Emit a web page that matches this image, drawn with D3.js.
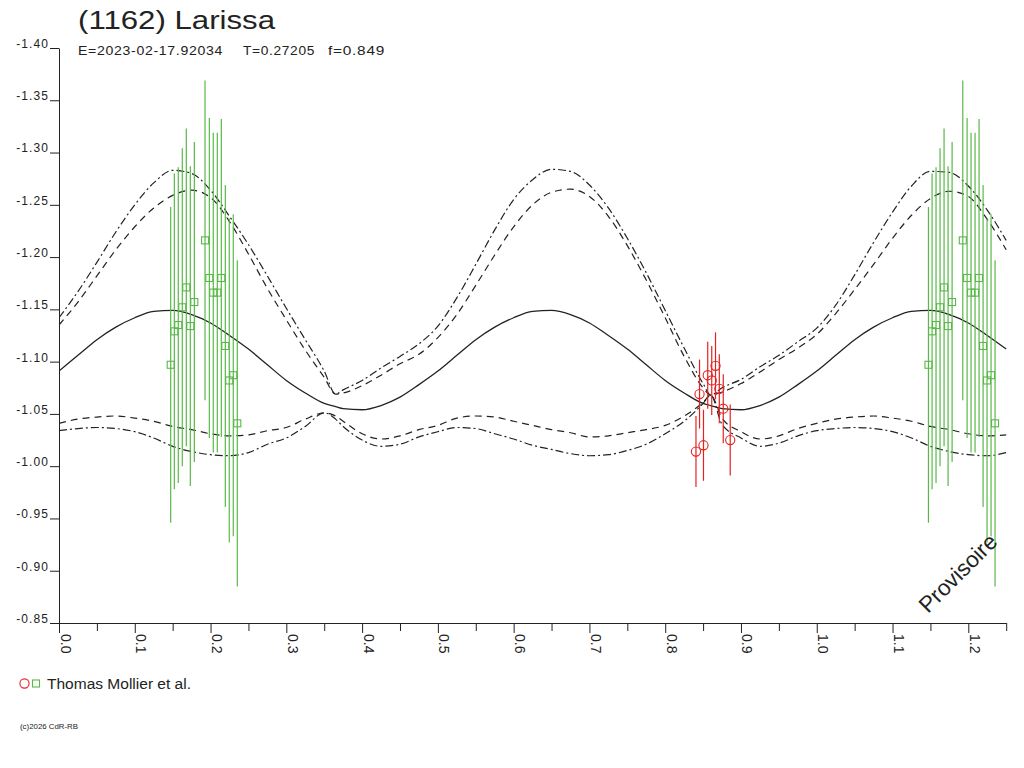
<!DOCTYPE html>
<html><head><meta charset="utf-8">
<script src="https://cdn.jsdelivr.net/npm/d3@7"></script>
<style>
body{margin:0;background:#fff;}
svg{display:block;}
text{font-family:"Liberation Sans",Arial,sans-serif;fill:#222;}
</style>
</head><body>
<svg id="chart" width="1024" height="768"></svg>
<script>
// ---------- data ----------
const titleText = "(1162) Larissa";
const subtitleParts = ["E=2023-02-17.92034", "T=0.27205", "f=0.849"];
const legendLabel = "Thomas Mollier et al.";
const watermarkText = "Provisoire";
const copyrightText = "(c)2026 CdR-RB";

const yTicks = [-1.40,-1.35,-1.30,-1.25,-1.20,-1.15,-1.10,-1.05,-1.00,-0.95,-0.90,-0.85];
const xTicks = [0.0,0.1,0.2,0.3,0.4,0.5,0.6,0.7,0.8,0.9,1.0,1.1,1.2];
const xMinorTicks = [0.05,0.15,0.25,0.35,0.45,0.55,0.65,0.75,0.85,0.95,1.05,1.15,1.25];

const curvePhase = [0,0.025,0.05,0.075,0.1,0.125,0.15,0.175,0.2,0.225,0.25,0.275,0.3,0.325,0.35,0.365,0.375,0.4,0.425,0.45,0.475,0.5,0.525,0.55,0.575,0.6,0.625,0.65,0.675,0.7,0.725,0.75,0.775,0.8,0.825,0.85,0.86,0.875,0.9,0.925,0.95,0.975,1.0,1.025,1.05,1.075,1.1,1.125,1.15,1.175,1.2,1.225,1.25];

const curveSolid = [-1.091,-1.106,-1.121,-1.133,-1.142,-1.148,-1.149,-1.145,-1.137,-1.125,-1.112,-1.097,-1.082,-1.070,-1.060,-1.057,-1.055,-1.054,-1.058,-1.066,-1.078,-1.091,-1.106,-1.121,-1.133,-1.142,-1.148,-1.149,-1.145,-1.137,-1.125,-1.112,-1.097,-1.082,-1.070,-1.060,-1.058,-1.055,-1.054,-1.058,-1.066,-1.078,-1.091,-1.106,-1.121,-1.133,-1.142,-1.148,-1.149,-1.145,-1.137,-1.125,-1.112];

const curveUpperDashDot = [-1.142,-1.167,-1.195,-1.224,-1.250,-1.271,-1.283,-1.280,-1.264,-1.239,-1.212,-1.182,-1.151,-1.121,-1.091,-1.069,-1.073,-1.082,-1.094,-1.105,-1.117,-1.134,-1.161,-1.193,-1.226,-1.255,-1.274,-1.284,-1.282,-1.269,-1.247,-1.218,-1.185,-1.149,-1.113,-1.079,-1.068,-1.075,-1.083,-1.095,-1.106,-1.119,-1.132,-1.154,-1.183,-1.214,-1.243,-1.268,-1.282,-1.281,-1.268,-1.245,-1.216];

const curveUpperDashed = [-1.135,-1.157,-1.182,-1.207,-1.229,-1.247,-1.259,-1.264,-1.257,-1.234,-1.203,-1.170,-1.140,-1.111,-1.085,-1.069,-1.070,-1.077,-1.087,-1.098,-1.107,-1.123,-1.145,-1.173,-1.202,-1.229,-1.250,-1.262,-1.265,-1.258,-1.239,-1.211,-1.178,-1.142,-1.105,-1.075,-1.068,-1.071,-1.079,-1.090,-1.102,-1.113,-1.126,-1.146,-1.169,-1.193,-1.218,-1.240,-1.256,-1.263,-1.258,-1.236,-1.207];

const curveLowerDashed = [-1.041,-1.045,-1.047,-1.048,-1.046,-1.043,-1.038,-1.035,-1.031,-1.029,-1.030,-1.034,-1.037,-1.045,-1.051,-1.048,-1.043,-1.031,-1.026,-1.029,-1.035,-1.039,-1.046,-1.048,-1.047,-1.043,-1.039,-1.035,-1.032,-1.028,-1.029,-1.032,-1.035,-1.039,-1.048,-1.061,-1.068,-1.046,-1.033,-1.026,-1.029,-1.036,-1.041,-1.045,-1.047,-1.048,-1.046,-1.043,-1.038,-1.035,-1.031,-1.029,-1.030];

const curveLowerDashDot = [-1.034,-1.036,-1.037,-1.036,-1.033,-1.027,-1.019,-1.014,-1.011,-1.010,-1.013,-1.021,-1.027,-1.038,-1.051,-1.045,-1.038,-1.025,-1.019,-1.021,-1.028,-1.033,-1.037,-1.036,-1.031,-1.026,-1.020,-1.016,-1.012,-1.010,-1.011,-1.015,-1.021,-1.031,-1.043,-1.060,-1.068,-1.040,-1.027,-1.019,-1.022,-1.029,-1.034,-1.036,-1.037,-1.036,-1.033,-1.027,-1.019,-1.014,-1.011,-1.010,-1.013];

// green squares (one session), phase in [0,1)
const greenPhase = [0.1474,0.1522,0.1574,0.1627,0.1680,0.1733,0.1786,0.1927,0.1984,0.2036,0.2089,0.2142,0.2195,0.2247,0.2300,0.2353];
const greenMag   = [-1.097,-1.129,-1.135,-1.152,-1.171,-1.134,-1.157,-1.216,-1.180,-1.166,-1.166,-1.180,-1.115,-1.082,-1.087,-1.041];
const greenErr   = [0.151,0.151,0.151,0.152,0.152,0.153,0.153,0.153,0.153,0.153,0.153,0.152,0.154,0.155,0.154,0.156];

// red circles (other session)
const redPhase = [0.8406,0.8453,0.8505,0.8561,0.8614,0.8664,0.8714,0.8766,0.8858];
const redMag   = [-1.014,-1.069,-1.020,-1.087,-1.082,-1.096,-1.074,-1.055,-1.025];
const redErr   = [0.034,0.033,0.034,0.032,0.033,0.032,0.033,0.033,0.034];

// ---------- drawing ----------
const svg = d3.select("#chart");
const x = d3.scaleLinear().domain([0, 1.25]).range([59, 1006.2]);
const y = d3.scaleLinear().domain([-1.40, -0.85]).range([48, 623]);
const ink = "#222";
const green = "#58b947";
const red = "#e52222";

// title
svg.append("text").attr("x", 78).attr("y", 29).attr("font-size", 26)
  .attr("textLength", 197).attr("lengthAdjust", "spacingAndGlyphs").text(titleText);
const subX = [78, 243, 328], subW = [145, 72, 57];
subtitleParts.forEach((t, i) => {
  svg.append("text").attr("x", subX[i]).attr("y", 55).attr("font-size", 12.5)
    .attr("letter-spacing", "0.6px")
    .attr("textLength", subW[i]).attr("lengthAdjust", "spacingAndGlyphs").text(t);
});

// y axis
const gy = svg.append("g").attr("transform", "translate(59,0)")
  .call(d3.axisLeft(y).tickValues(yTicks).tickSize(9).tickSizeOuter(0).tickFormat(d => d.toFixed(2)));
gy.select(".domain").attr("stroke", ink);
gy.selectAll(".tick line").attr("stroke", ink);
gy.selectAll(".tick text").attr("x", -10).attr("dy", "-0.6")
  .attr("font-size", 12).attr("letter-spacing", "1.1px").attr("fill", ink)
  .attr("font-family", '"Liberation Sans",Arial,sans-serif');

// x axis (minor ticks)
const gxm = svg.append("g").attr("transform", "translate(0,623)")
  .call(d3.axisBottom(x).tickValues(xMinorTicks).tickSize(8).tickSizeOuter(0).tickFormat(""));
gxm.select(".domain").attr("stroke", ink);
gxm.selectAll(".tick line").attr("stroke", ink);
// x axis (major ticks + rotated labels)
const gx = svg.append("g").attr("transform", "translate(0,623)")
  .call(d3.axisBottom(x).tickValues(xTicks).tickSize(10).tickSizeOuter(0).tickFormat(d => d.toFixed(1)));
gx.select(".domain").remove();
gx.selectAll(".tick line").attr("stroke", ink);
gx.selectAll(".tick text")
  .attr("transform", "rotate(90)")
  .attr("x", 11).attr("y", -1).attr("dy", 0)
  .attr("text-anchor", "start")
  .attr("font-size", 14).attr("fill", ink)
  .attr("font-family", '"Liberation Sans",Arial,sans-serif');

// clip for plot
svg.append("clipPath").attr("id", "plotclip").append("rect")
  .attr("x", 59).attr("y", 40).attr("width", 950).attr("height", 584);
const plot = svg.append("g").attr("clip-path", "url(#plotclip)");

// curves
function drawCurve(vals, dash, w) {
  const line = d3.line()
    .x((d, i) => x(curvePhase[i]))
    .y(d => y(d))
    .curve(d3.curveMonotoneX);
  plot.append("path").attr("d", line(vals)).attr("fill", "none")
    .attr("stroke", ink).attr("stroke-width", w)
    .attr("stroke-dasharray", dash);
}
drawCurve(curveSolid, null, 1.3);
drawCurve(curveUpperDashDot, "8,3,2,3", 1.2);
drawCurve(curveUpperDashed, "7,5", 1.2);
drawCurve(curveLowerDashed, "7,5", 1.2);
drawCurve(curveLowerDashDot, "8,3,2,3", 1.2);

// green points (plotted at phase and phase+1)
const gpts = [];
greenPhase.forEach((p, i) => {
  [0, 1].forEach(o => { if (p + o <= 1.25) gpts.push({p: p + o, m: greenMag[i], e: greenErr[i]}); });
});
const gg = plot.append("g");
gg.selectAll("line").data(gpts).join("line")
  .attr("x1", d => x(d.p)).attr("x2", d => x(d.p))
  .attr("y1", d => y(d.m - d.e)).attr("y2", d => y(d.m + d.e))
  .attr("stroke", green).attr("stroke-width", 1.2);
gg.selectAll("rect").data(gpts).join("rect")
  .attr("x", d => x(d.p) - 3.5).attr("y", d => y(d.m) - 3.5)
  .attr("width", 7).attr("height", 7)
  .attr("fill", "none").attr("stroke", green).attr("stroke-width", 1.1);

// red points
const rpts = [];
redPhase.forEach((p, i) => {
  [0, 1].forEach(o => { if (p + o <= 1.25) rpts.push({p: p + o, m: redMag[i], e: redErr[i]}); });
});
const rg = plot.append("g");
rg.selectAll("line").data(rpts).join("line")
  .attr("x1", d => x(d.p)).attr("x2", d => x(d.p))
  .attr("y1", d => y(d.m - d.e)).attr("y2", d => y(d.m + d.e))
  .attr("stroke", red).attr("stroke-width", 1.2);
rg.selectAll("circle").data(rpts).join("circle")
  .attr("cx", d => x(d.p)).attr("cy", d => y(d.m)).attr("r", 4.6)
  .attr("fill", "none").attr("stroke", red).attr("stroke-width", 1.1);

// watermark
svg.append("text").attr("transform", "translate(928,614) rotate(-45)")
  .attr("font-size", 22.5).attr("fill", ink).text(watermarkText);

// legend
svg.append("circle").attr("cx", 24.5).attr("cy", 683.5).attr("r", 4.6)
  .attr("fill", "none").attr("stroke", red).attr("stroke-width", 1.1);
svg.append("rect").attr("x", 32.5).attr("y", 680).attr("width", 7).attr("height", 7)
  .attr("fill", "none").attr("stroke", green).attr("stroke-width", 1.1);
svg.append("text").attr("x", 47).attr("y", 688.5).attr("font-size", 15.5)
  .attr("textLength", 144).attr("lengthAdjust", "spacingAndGlyphs").text(legendLabel);

// copyright
svg.append("text").attr("x", 20).attr("y", 728.5).attr("font-size", 8)
  .attr("textLength", 58).attr("lengthAdjust", "spacingAndGlyphs").text(copyrightText);
</script>
</body></html>
